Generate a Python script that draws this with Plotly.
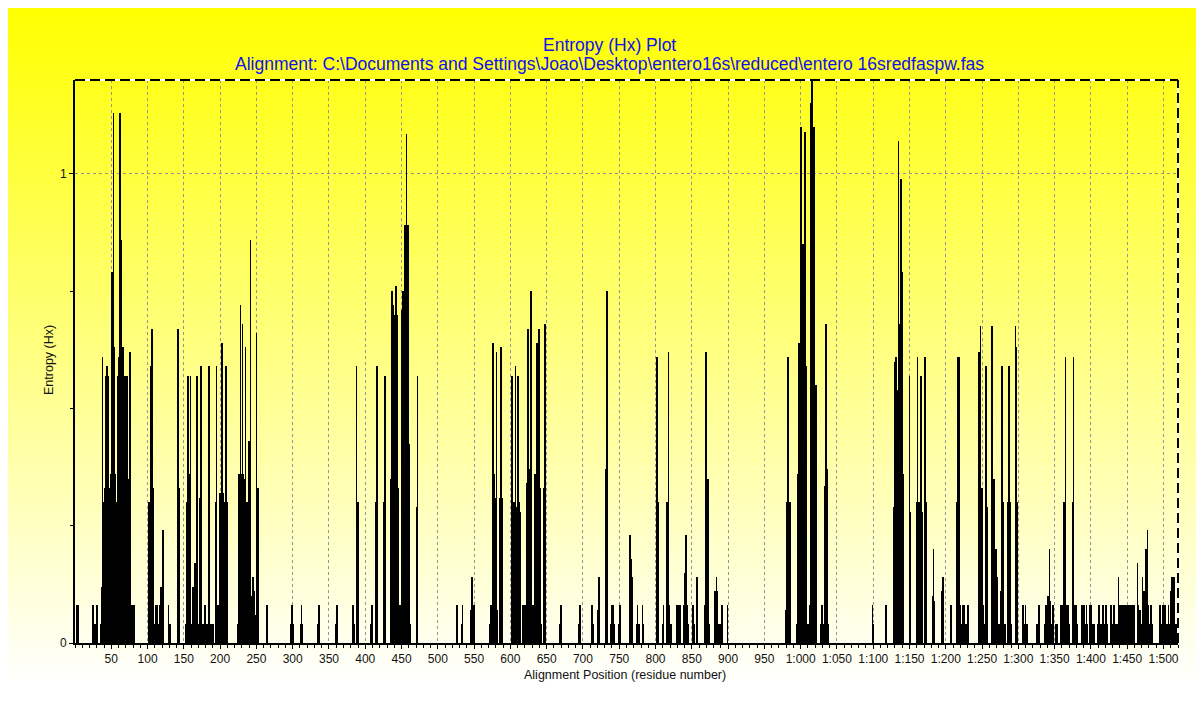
import base64
import plotly.graph_objects as go

# ---------------- data ----------------
# [alignment position, entropy Hx] for every position with non-zero entropy
region_1_260 = [
    [3, .08], [4, .08], [25, .08], [26, .04], [29, .04], [30, .08],
    [35, .04], [36, .04], [37, .12], [38, .61], [39, .30], [40, .30], [41, .33], [42, .33],
    [43, .57], [44, .59], [45, .33], [46, .57], [47, .33], [48, .33], [49, .18], [50, .36],
    [51, .79], [52, .67], [53, 1.13], [54, .63], [55, .36], [56, .30], [57, .30], [58, .30],
    [59, .57], [60, .36], [61, .61], [62, 1.13], [63, .86], [64, .30], [65, .30], [66, .63],
    [67, .30], [68, .30], [69, .57], [70, .30], [71, .30], [72, .57], [73, .30], [74, .35],
    [75, .04], [76, .62], [77, .08], [78, .08], [79, .08], [80, .08], [81, .08], [82, .08],
    [102, .30], [103, .30], [105, .59], [106, .67], [107, .33], [108, .33],
    [110, .04], [111, .08], [113, .08], [115, .04], [117, .08], [119, .12], [121, .24],
    [129, .08], [131, .04], [142, .67], [143, .33],
    [153, .04], [154, .30], [155, .04], [156, .57], [157, .36], [158, .04], [159, .57],
    [161, .04], [163, .12], [165, .17], [167, .04], [168, .57], [169, .30], [171, .04],
    [172, .31], [173, .04], [174, .59], [176, .04], [179, .08], [180, .04], [181, .04],
    [183, .04], [184, .34], [185, .59], [187, .04], [190, .04], [194, .30], [195, .59],
    [197, .08], [199, .08], [200, .32], [201, .04], [203, .64], [204, .32], [205, .04],
    [206, .30], [208, .59], [210, .30],
    [224, .04], [225, .04], [226, .36], [227, .04], [228, .72], [229, .36], [230, .04],
    [231, .68], [232, .36], [233, .04], [234, .35], [235, .63], [236, .04], [237, .30],
    [238, .08], [239, .08], [240, .43], [242, .86], [243, .10], [245, .14], [247, .11],
    [248, .06], [250, .66], [252, .33], [264, .04], [265, .08],
]

region_261_520 = [
    [298, .04], [299, .08], [300, .04], [311, .04], [312, .08], [313, .04],
    [335, .04], [336, .08], [359, .04], [361, .08], [383, .08], [385, .04],
    [388, .59], [390, .30], [408, .04], [409, .08], [415, .30], [416, .59], [417, .30],
    [426, .30], [427, .57],
    [435, .35], [436, .35], [437, .75], [438, .71], [439, .72], [440, .69], [441, .70],
    [442, .76], [443, .70], [444, .70], [445, .33], [446, .04], [447, .08], [448, .04],
    [449, .08], [450, .71], [451, .71], [452, .75], [453, .75], [454, .875], [455, .89],
    [456, .89], [457, 1.085], [458, .89], [459, .89], [460, .425], [461, .04], [462, .04],
    [471, .29], [472, .57],
]

region_521_760 = [
    [526, .08], [527, .04], [533, .04], [534, .08], [545, .07], [547, .14], [548, .04],
    [550, .08], [572, .04], [573, .08],
    [576, .64], [577, .36], [578, .36], [579, .31], [580, .31], [581, .62], [582, .07],
    [585, .05], [586, .31], [587, .63], [588, .31],
    [602, .57], [603, .29], [604, .29], [605, .30], [606, .30], [607, .59], [608, .29],
    [609, .29], [610, .57], [611, .30], [612, .30], [613, .28],
    [617, .08], [618, .08], [619, .08], [620, .08], [621, .08], [622, .34], [623, .34],
    [624, .67], [625, .655], [626, .37], [627, .37], [628, .75], [629, .08], [630, .08],
    [631, .08], [632, .08], [633, .08], [634, .36], [635, .36], [636, .36], [637, .64],
    [638, .36], [639, .67], [640, .33], [641, .33], [642, .04], [646, .33], [647, .33],
    [648, .68],
    [668, .04], [670, .08], [694, .04], [696, .08], [712, .08], [714, .04], [721, .07],
    [722, .14], [732, .37], [733, .75], [739, .04], [740, .08], [742, .08], [743, .04],
    [750, .04], [751, .08],
]

region_761_1013 = [
    [765, .23], [766, .18], [768, .14], [774, .04], [775, .08], [777, .04], [782, .08],
    [783, .04],
    [802, .61], [803, .30], [804, .30], [810, .04], [811, .08], [816, .30], [817, .30],
    [818, .62], [819, .08], [821, .04],
    [829, .04], [830, .08], [832, .08], [834, .08], [839, .08], [840, .15], [842, .23],
    [843, .08], [845, .04], [852, .08], [853, .04], [857, .14], [858, .07],
    [868, .08], [870, .62], [871, .35], [872, .35], [874, .04], [882, .11], [884, .14],
    [885, .11], [887, .04], [890, .04], [892, .08], [899, .08],
    [980, .07], [981, .30], [982, .30], [983, .61], [984, .30], [985, .30],
    [995, .04], [996, .36], [997, .36], [998, .64], [999, .36], [1000, 1.10], [1001, .59],
    [1002, .59], [1003, .85], [1004, .59], [1005, .59], [1006, 1.09], [1007, .59],
    [1008, .04], [1010, .04], [1013, .08],
]

region_1014_1299 = [
    [1014, 1.15], [1015, 1.15], [1016, 1.20], [1017, 1.05], [1018, 1.10], [1019, 1.10],
    [1020, .55], [1021, .55], [1022, .04],
    [1028, .04], [1029, .08], [1031, .04], [1034, .335], [1035, .68], [1036, .37], [1038, .04],
    [1099, .08], [1100, .04], [1117, .04], [1118, .08],
    [1129, .29], [1130, .60], [1131, .61], [1132, .61], [1133, .54], [1134, .54],
    [1135, 1.07], [1136, .68], [1137, .68], [1138, .99], [1139, .79], [1140, .79], [1141, .36],
    [1150, .57], [1151, .28], [1160, .30], [1161, .61], [1162, .30], [1163, .30],
    [1166, .57], [1167, .28], [1168, .28], [1171, .61], [1172, .30], [1173, .30],
    [1182, .10], [1183, .20], [1184, .09], [1194, .11], [1196, .14], [1197, .07],
    [1207, .08], [1208, .04],
    [1215, .30], [1216, .30], [1217, .61], [1218, .61], [1219, .30], [1220, .08],
    [1222, .04], [1223, .08], [1225, .08], [1227, .04], [1229, .04], [1231, .08],
    [1246, .62], [1247, .62], [1248, .675], [1249, .33], [1250, .33], [1251, .04],
    [1252, .08], [1254, .04], [1255, .59], [1256, .29], [1257, .29], [1263, .04],
    [1264, .675], [1265, .35], [1266, .35], [1268, .04], [1269, .20], [1271, .14],
    [1272, .04], [1274, .04],
    [1276, .11], [1277, .59], [1278, .30], [1279, .30], [1282, .04], [1285, .30],
    [1286, .30], [1287, .59], [1288, .30], [1290, .04], [1296, .675], [1297, .63],
    [1298, .30], [1299, .30],
]

region_1300_1519 = [
    [1306, .08], [1308, .04], [1310, .08], [1312, .04], [1326, .04], [1328, .08],
    [1336, .04], [1338, .08], [1341, .10], [1343, .20], [1344, .09], [1346, .04],
    [1348, .08], [1351, .04], [1353, .04],
    [1359, .08], [1361, .08], [1362, .08], [1363, .30], [1365, .61], [1366, .08],
    [1368, .08], [1370, .04], [1375, .30], [1376, .61], [1378, .08], [1380, .08], [1381, .04],
    [1387, .04], [1388, .08], [1390, .08], [1392, .04], [1394, .08], [1395, .04],
    [1399, .08], [1400, .08], [1402, .04], [1404, .04],
    [1409, .04], [1411, .08], [1414, .04], [1417, .08], [1419, .04], [1421, .08],
    [1422, .04], [1428, .08], [1430, .04], [1432, .08], [1434, .04], [1436, .04], [1438, .14],
    [1440, .08], [1441, .08], [1442, .08], [1443, .08], [1444, .08], [1445, .08],
    [1446, .08], [1447, .08], [1448, .08], [1449, .08], [1450, .08], [1451, .08],
    [1452, .08], [1453, .08], [1454, .08], [1455, .08], [1456, .08], [1457, .08],
    [1458, .08], [1459, .08],
    [1460, .04], [1464, .17], [1465, .08], [1468, .07], [1470, .04], [1471, .14],
    [1473, .11], [1474, .09], [1476, .20], [1478, .24], [1479, .08], [1480, .04],
    [1483, .08], [1484, .04],
    [1495, .08], [1497, .04], [1499, .08], [1500, .04], [1502, .08], [1505, .04],
    [1507, .08], [1509, .04], [1510, .11], [1512, .14], [1514, .14], [1515, .08], [1517, .04],
]

x_tick_values = [50, 100, 150, 200, 250, 300, 350, 400, 450, 500, 550, 600, 650, 700, 750,
                 800, 850, 900, 950, 1000, 1050, 1100, 1150, 1200, 1250, 1300, 1350, 1400,
                 1450, 1500]
x_tick_labels = ["50", "100", "150", "200", "250", "300", "350", "400", "450", "500", "550",
                 "600", "650", "700", "750", "800", "850", "900", "950", "1:000", "1:050",
                 "1:100", "1:150", "1:200", "1:250", "1:300", "1:350", "1:400", "1:450",
                 "1:500"]
y_tick_values = [0, 1]
y_tick_labels = ["0", "1"]
y_minor_values = [0.25, 0.5, 0.75]

title_main = "Entropy (Hx) Plot"
title_sub = r"Alignment: C:\Documents and Settings\Joao\Desktop\entero16s\reduced\entero 16sredfaspw.fas"
x_title = "Alignment Position (residue number)"
y_title = "Entropy (Hx)"

# ---------------- figure ----------------
pairs = (region_1_260 + region_261_520 + region_521_760 + region_761_1013
         + region_1014_1299 + region_1300_1519)
positions = [p for p, _ in pairs]
entropy = [v for _, v in pairs]

OFF = 8                      # page margin of the html body
W, H = 1204 - OFF, 706 - OFF
ML, MR, MT, MB = 75 - OFF, 26, 80 - OFF, 63
PW, PH = W - ML - MR, H - MT - MB


def px_x(px):                # page pixel -> paper coordinate
    return (px - OFF - ML) / PW


def px_y(py):
    return (H - MB - (py - OFF)) / PH


fig = go.Figure()
fig.add_trace(go.Bar(
    x=positions, y=entropy, width=1,
    marker=dict(color="black", line=dict(width=0)),
    hovertemplate="%{x}: %{y}<extra></extra>",
))

svg = ('<svg xmlns="http://www.w3.org/2000/svg" width="100" height="100" '
       'viewBox="0 0 100 100" preserveAspectRatio="none"><defs>'
       '<linearGradient id="g" x1="0" y1="0" x2="0" y2="1">'
       '<stop offset="0" stop-color="#ffff00"/>'
       '<stop offset="0.97" stop-color="#ffffff"/>'
       '<stop offset="1" stop-color="#ffffff"/>'
       '</linearGradient></defs>'
       '<rect x="0" y="0" width="100" height="100" fill="url(#g)"/></svg>')
src = "data:image/svg+xml;base64," + base64.b64encode(svg.encode()).decode()

axis_font = dict(family="Liberation Sans, Arial, sans-serif", size=12, color="#111111")
blue_font = dict(family="Liberation Sans, Arial, sans-serif", size=17.5, color="#1010f0")

fig.update_layout(
    width=W, height=H,
    margin=dict(l=ML, r=MR, t=MT, b=MB, pad=0),
    paper_bgcolor="white",
    plot_bgcolor="rgba(0,0,0,0)",
    bargap=0,
    showlegend=False,
    images=[dict(source=src, xref="paper", yref="paper",
                 x=px_x(OFF), y=px_y(OFF), sizex=(1197 - OFF) / PW, sizey=H / PH,
                 xanchor="left", yanchor="top", sizing="stretch", layer="below")],
    xaxis=dict(
        range=[0, 1520], tickmode="array", tickvals=x_tick_values, ticktext=x_tick_labels,
        showgrid=True, gridcolor="#959595", gridwidth=1, griddash="3px,3px",
        showline=True, linecolor="black", linewidth=2, zeroline=False,
        ticks="outside", ticklen=4, tickcolor="black", tickwidth=1,
        tickfont=axis_font, tickangle=0,
        minor=dict(tickmode="linear", tick0=0, dtick=10, ticks="outside", ticklen=3,
                   tickcolor="black", tickwidth=1, showgrid=False),
    ),
    yaxis=dict(
        range=[0, 1.2], tickmode="array", tickvals=y_tick_values, ticktext=y_tick_labels,
        showgrid=True, gridcolor="#959595", gridwidth=1, griddash="3px,3px",
        showline=True, linecolor="black", linewidth=2, zeroline=False,
        ticks="outside", ticklen=4, tickcolor="black", tickwidth=1,
        tickfont=axis_font,
        minor=dict(tickmode="array", tickvals=y_minor_values, ticks="outside", ticklen=3,
                   tickcolor="black", tickwidth=1, showgrid=False),
    ),
    shapes=[
        dict(type="line", xref="paper", yref="paper", x0=0, x1=1, y0=1, y1=1,
             line=dict(color="white", width=2)),
        dict(type="line", xref="paper", yref="paper", x0=0, x1=1, y0=1, y1=1,
             line=dict(color="black", width=2, dash="10px,5px")),
        dict(type="line", xref="paper", yref="paper", x0=1, x1=1, y0=0, y1=1,
             line=dict(color="white", width=2)),
        dict(type="line", xref="paper", yref="paper", x0=1, x1=1, y0=0, y1=1,
             line=dict(color="black", width=2, dash="10px,5px")),
    ],
    annotations=[
        dict(text=title_main, xref="paper", yref="paper", x=px_x(609), y=px_y(45),
             xanchor="center", yanchor="middle", showarrow=False, font=blue_font),
        dict(text=title_sub, xref="paper", yref="paper", x=px_x(609), y=px_y(64),
             xanchor="center", yanchor="middle", showarrow=False, font=blue_font),
        dict(text=x_title, xref="paper", yref="paper", x=px_x(625), y=px_y(675),
             xanchor="center", yanchor="middle", showarrow=False,
             font=dict(family="Liberation Sans, Arial, sans-serif", size=12.5, color="#111111")),
        dict(text=y_title, xref="paper", yref="paper", x=px_x(49), y=px_y(360),
             xanchor="center", yanchor="middle", showarrow=False, textangle=-90,
             font=dict(family="Liberation Sans, Arial, sans-serif", size=12.5, color="#111111")),
    ],
)

fig.write_html("out.html")
